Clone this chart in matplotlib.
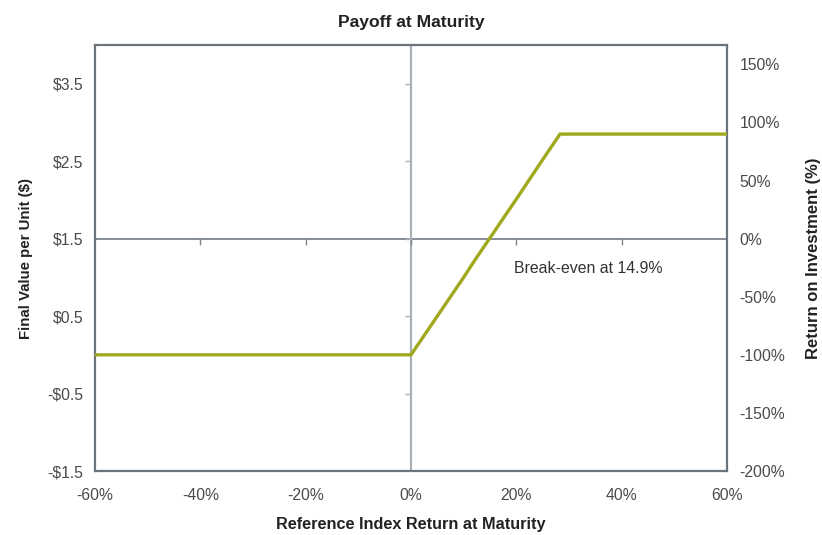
import matplotlib
matplotlib.use('Agg')
import matplotlib.pyplot as plt
from matplotlib.markers import TICKDOWN, TICKLEFT

plt.rcParams['font.family'] = ['Liberation Sans', 'DejaVu Sans']

# index return at maturity (%) and final value per unit ($)
index_return = [-60, -50, 0, 5, 10, 12, 14.9, 20, 25, 28.3, 40, 50, 60]
final_value = [0, 0, 0, 0.50, 1.00, 1.21, 1.50, 2.01, 2.52, 2.85, 2.85, 2.85, 2.85]

x_ticks = [-60, -40, -20, 0, 20, 40, 60]
x_labels = ['-60%', '-40%', '-20%', '0%', '20%', '40%', '60%']
y_ticks = [-1.5, -0.5, 0.5, 1.5, 2.5, 3.5]
y_labels = ['-$1.5', '-$0.5', '$0.5', '$1.5', '$2.5', '$3.5']
roi_ticks = [-200, -150, -100, -50, 0, 50, 100, 150]
issue_price = 1.5
breakeven = 14.9

line_color = '#a0a81c'
spine_color = '#6b747d'
label_color = '#4a4a4a'
title_color = '#222222'

fig = plt.figure(figsize=(8.22, 5.35), dpi=100)
ax = fig.add_axes([0.1156, 0.1196, 0.7688, 0.7963])

ax.set_xlim(-60, 60)
ax.set_ylim(-1.5, 4.0)

# cross lines at issue price and at 0% index return
ax.axhline(issue_price, color='#7d858d', lw=1.3, zorder=1)
ax.axvline(0, color='#a9b0b7', lw=1.6, zorder=1)
ax.plot([t for t in x_ticks if -60 < t < 60], [issue_price] * 5, ls='none',
        marker=TICKDOWN, ms=4, mew=1, color='#7d858d', zorder=1)
ax.plot([0] * len(y_ticks), y_ticks, ls='none', marker=TICKLEFT, ms=4, mew=1,
        color='#a9b0b7', zorder=1)

ax.plot(index_return, final_value, color=line_color, lw=2.4, zorder=3,
        solid_joinstyle='miter')

ax.text(19.5, 1.11, 'Break-even at %.1f%%' % breakeven, fontsize=11.4,
        color='#333333', ha='left', va='center')

for s in ax.spines.values():
    s.set_color(spine_color)
    s.set_linewidth(1.6)

ax.set_xticks(x_ticks)
ax.set_xticklabels(x_labels)
ax.set_yticks(y_ticks)
ax.set_yticklabels(y_labels)
ax.tick_params(axis='both', length=0, labelsize=11.3, labelcolor=label_color)
ax.tick_params(axis='x', pad=12.5)
ax.tick_params(axis='y', pad=8.5)

# right axis: return on investment relative to issue price
ax2 = ax.twinx()
ax2.set_ylim((-1.5 - issue_price) / issue_price * 100,
             (4.0 - issue_price) / issue_price * 100)
ax2.set_yticks(roi_ticks)
ax2.set_yticklabels(['%d%%' % t for t in roi_ticks])
ax2.tick_params(axis='y', length=0, labelsize=11.3, labelcolor=label_color, pad=9)
for s in ax2.spines.values():
    s.set_visible(False)

ax.set_title('Payoff at Maturity', fontsize=12.6, fontweight='bold', color=title_color, pad=13)
ax.set_xlabel('Reference Index Return at Maturity', fontsize=11.7, fontweight='bold',
              color=title_color, labelpad=10)
ax.set_ylabel('Final Value per Unit ($)', fontsize=10.8, fontweight='bold',
              color=title_color, labelpad=10)
ax2.set_ylabel('Return on Investment (%)', fontsize=12, fontweight='bold',
               color=title_color, labelpad=15)

fig.savefig('out.png', dpi=100)
